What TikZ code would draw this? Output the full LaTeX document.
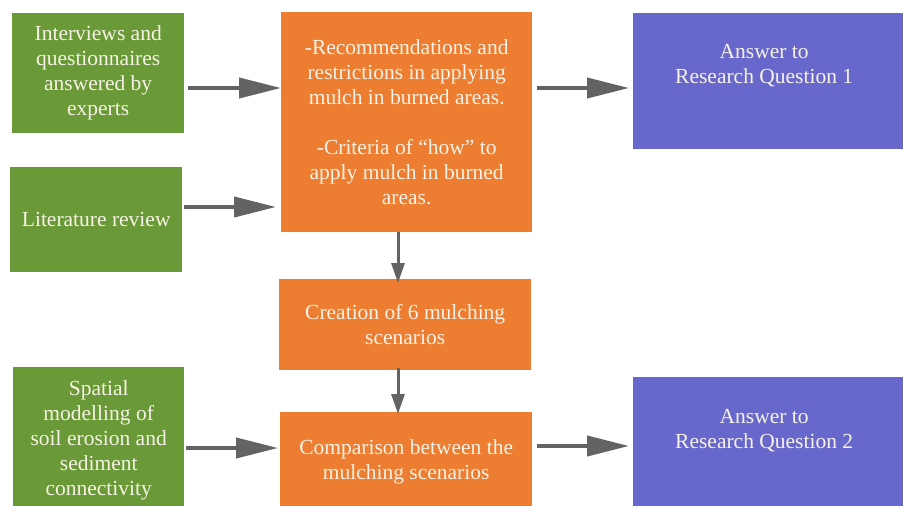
\documentclass[tikz,border=0pt]{standalone}
\usepackage{fontspec}
\setmainfont{Liberation Serif}
\newfontfamily\tnr{Liberation Serif}
\usetikzlibrary{arrows.meta}
\definecolor{gbox}{HTML}{6A9A37}
\definecolor{obox}{HTML}{ED7D31}
\definecolor{bbox}{HTML}{6868CC}
\definecolor{arr}{HTML}{636363}
\definecolor{txt}{HTML}{F6F2E6}
\begin{document}
\begin{tikzpicture}[x=1pt,y=-1pt,
  box/.style={anchor=north west, inner sep=0pt, text=txt, align=center,
    font=\tnr\fontsize{21.5}{25}\selectfont},
  gb/.style={box, fill=gbox},
  ob/.style={box, fill=obox},
  bb/.style={box, fill=bbox},
  bigarrow/.style={draw=arr, line width=4pt, -{Triangle[length=42pt,width=20pt]}},
  smallarrow/.style={draw=arr, line width=3pt, -{Triangle[length=20pt,width=13pt]}}]
\useasboundingbox (0,0) rectangle (903,506);
\clip (0,0) rectangle (903,506);
\node[gb, minimum width=172pt, minimum height=120pt] (g1) at (12,13) {Interviews and\\questionnaires\\answered by\\experts};
\node[gb, minimum width=172pt, minimum height=105pt] (g2) at (10,167) {Literature review};
\node[gb] (g3) at (13,367) {\parbox[c][150pt][t]{171pt}{\centering\vspace{13pt}Spatial\\modelling of\\soil erosion and\\sediment\\connectivity}};
\node[ob, minimum width=251pt, minimum height=220pt] (o1) at (281,12) {-Recommendations and\\restrictions in applying\\mulch in burned areas.\\[25pt]-Criteria of “how” to\\apply mulch in burned\\areas.};
\node[ob, minimum width=252pt, minimum height=91pt] (o2) at (279,279) {Creation of 6 mulching\\scenarios};
\node[ob, minimum width=252pt, minimum height=100pt] (o3) at (280,412) {Comparison between the\\mulching scenarios};
\node[bb] (b1) at (633,13) {\parbox[c][136pt][t]{262pt}{\centering\vspace{31pt}Answer to\\Research Question 1}};
\node[bb] (b2) at (633,377) {\parbox[c][140pt][t]{262pt}{\centering\vspace{32pt}Answer to\\Research Question 2}};
\fill[bbox] (890,13) rectangle (903,149);
\fill[bbox] (890,377) rectangle (903,506);
\draw[bigarrow] (g1.east |- 0,88) ++(4,0) -- (o1.west |- 0,88);
\draw[bigarrow] (g2.east |- 0,207) ++(2,0) -- ([xshift=-5pt]o1.west |- 0,207);
\draw[bigarrow] (g3.east |- 0,448) ++(2,0) -- ([xshift=-2pt]o3.west |- 0,448);
\draw[bigarrow] ([xshift=5pt]o1.east |- 0,88) -- ([xshift=-4pt]b1.west |- 0,88);
\draw[bigarrow] ([xshift=5pt]o3.east |- 0,446) -- ([xshift=-4pt]b2.west |- 0,446);
\draw[smallarrow] (o1.south -| 398,0) -- ([yshift=-4pt]o2.north -| 398,0);
\draw[smallarrow] ([yshift=2pt]o2.south -| 398,0) -- ([yshift=-2pt]o3.north -| 398,0);
\end{tikzpicture}
\end{document}
